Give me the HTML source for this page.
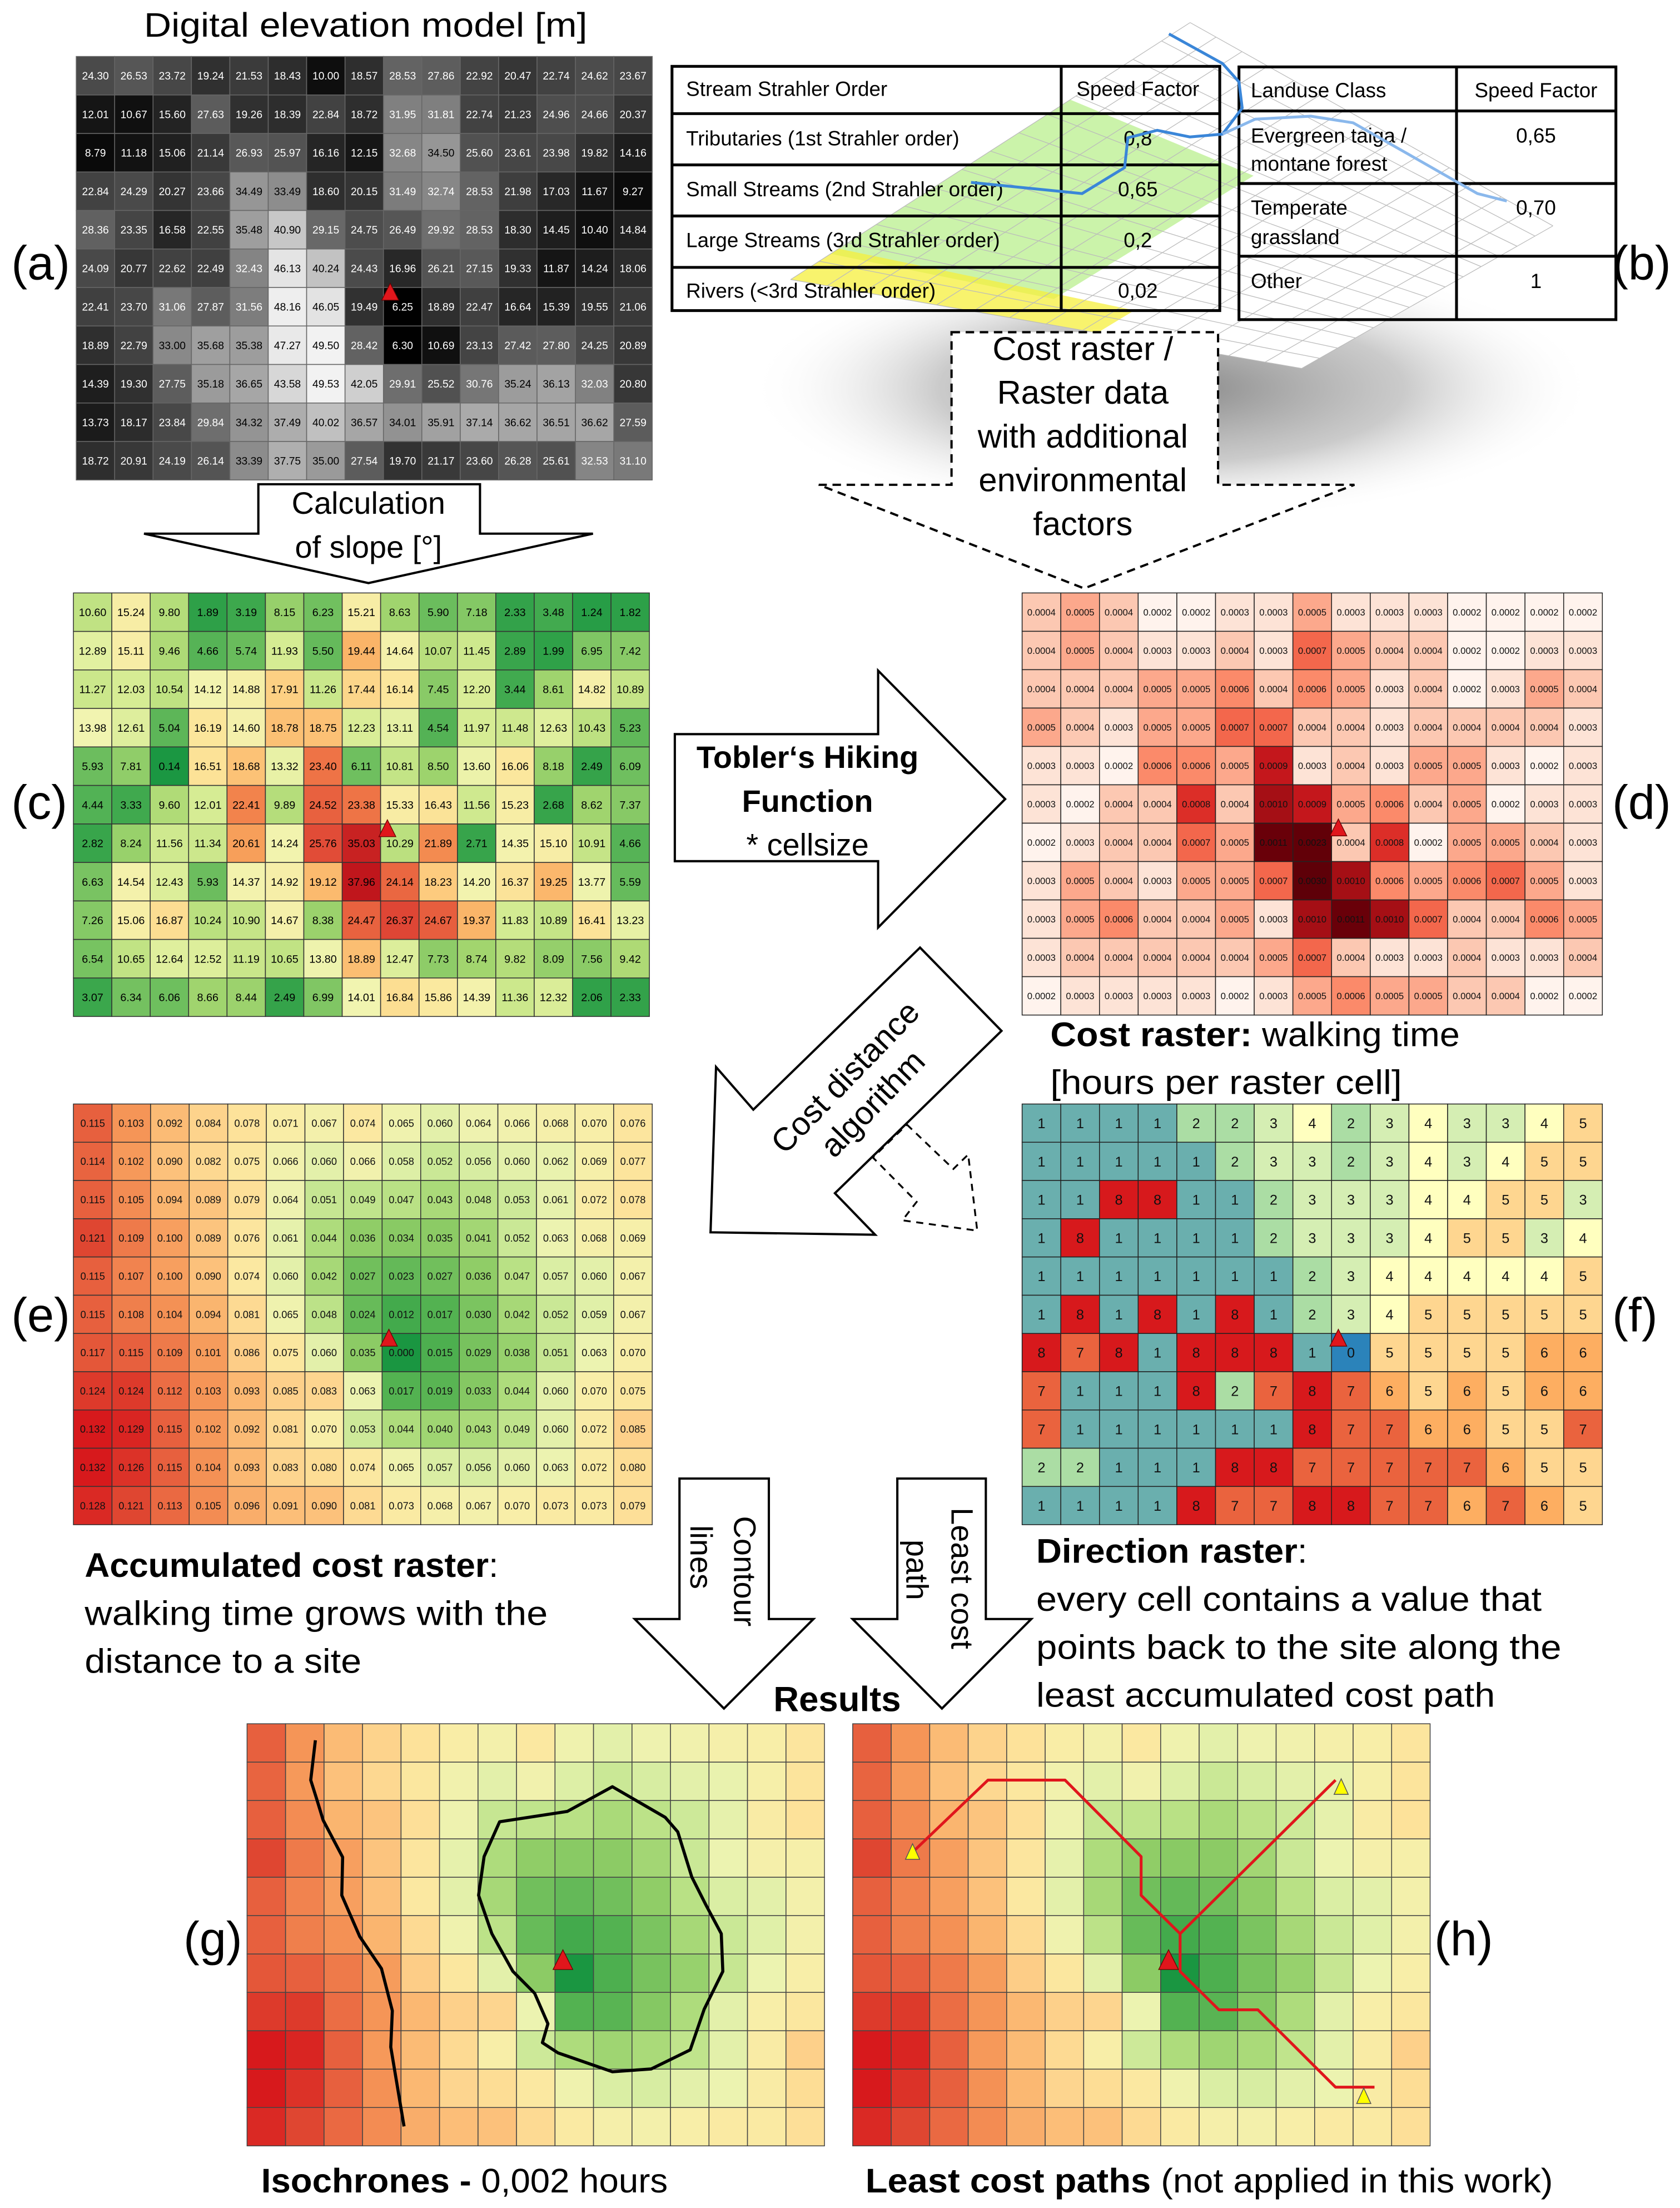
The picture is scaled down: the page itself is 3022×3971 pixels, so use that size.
<!DOCTYPE html>
<html><head><meta charset="utf-8">
<style>
html,body{margin:0;padding:0;background:#fff;}
svg{display:block;}
text{font-family:"Liberation Sans",sans-serif;}
</style></head>
<body>
<svg id="fig" xmlns="http://www.w3.org/2000/svg" width="3022" height="3971" viewBox="0 0 1190 1564" preserveAspectRatio="none">
<defs>
  <radialGradient id="shadowGrad" cx="0.5" cy="0.5" r="0.5">
    <stop offset="0" stop-color="#7a7a7a" stop-opacity="0.9"/>
    <stop offset="0.55" stop-color="#a0a0a0" stop-opacity="0.55"/>
    <stop offset="1" stop-color="#ffffff" stop-opacity="0"/>
  </radialGradient>
</defs>
<rect x="0" y="0" width="1190" height="1564" fill="#fff"/>

<!-- Title -->
<text x="259" y="26" font-size="24" text-anchor="middle" textLength="314" lengthAdjust="spacingAndGlyphs">Digital elevation model [m]</text>

<!-- panel letters -->
<g font-size="34">
  <text x="8" y="198">(a)</text>
  <text x="1142" y="198">(b)</text>
  <text x="8" y="580">(c)</text>
  <text x="1142" y="580">(d)</text>
  <text x="8" y="943">(e)</text>
  <text x="1142" y="943">(f)</text>
  <text x="130" y="1385">(g)</text>
  <text x="1016" y="1385">(h)</text>
</g>

<!-- (b) background plane -->
<g id="plane">
  <ellipse cx="830" cy="275" rx="300" ry="95" fill="url(#shadowGrad)"/>
</g>

<!-- tables -->
<g id="tables" font-size="14.5" fill="#000">
  <g stroke="#000" fill="none">
    <rect x="476" y="47" width="388" height="173" stroke-width="2"/>
    <line x1="476" y1="80.5" x2="864" y2="80.5" stroke-width="2"/>
    <line x1="476" y1="116.8" x2="864" y2="116.8" stroke-width="2"/>
    <line x1="476" y1="153" x2="864" y2="153" stroke-width="2"/>
    <line x1="476" y1="189.4" x2="864" y2="189.4" stroke-width="2"/>
    <line x1="751.7" y1="47" x2="751.7" y2="220" stroke-width="2"/>
  </g>
  <text x="486" y="68">Stream Strahler Order</text>
  <text x="806" y="68" text-anchor="middle">Speed Factor</text>
  <text x="486" y="103">Tributaries (1st Strahler order)</text>
  <text x="486" y="139">Small Streams (2nd Strahler order)</text>
  <text x="486" y="175">Large Streams (3rd Strahler order)</text>
  <text x="486" y="211">Rivers (&lt;3rd Strahler order)</text>
  <text x="806" y="103" text-anchor="middle">0,8</text>
  <text x="806" y="139" text-anchor="middle">0,65</text>
  <text x="806" y="175" text-anchor="middle">0,2</text>
  <text x="806" y="211" text-anchor="middle">0,02</text>

  <g stroke="#000" fill="none">
    <rect x="877.6" y="47.4" width="267" height="179" stroke-width="2"/>
    <line x1="877.6" y1="78.6" x2="1144.6" y2="78.6" stroke-width="2"/>
    <line x1="877.6" y1="130" x2="1144.6" y2="130" stroke-width="2"/>
    <line x1="877.6" y1="181.5" x2="1144.6" y2="181.5" stroke-width="2"/>
    <line x1="1031.7" y1="47.4" x2="1031.7" y2="226.4" stroke-width="2"/>
  </g>
  <text x="886" y="69">Landuse Class</text>
  <text x="1088" y="69" text-anchor="middle">Speed Factor</text>
  <text x="886" y="101">Evergreen taiga /</text>
  <text x="886" y="121">montane forest</text>
  <text x="886" y="152">Temperate</text>
  <text x="886" y="173">grassland</text>
  <text x="886" y="204">Other</text>
  <text x="1088" y="101" text-anchor="middle">0,65</text>
  <text x="1088" y="152" text-anchor="middle">0,70</text>
  <text x="1088" y="204" text-anchor="middle">1</text>
</g>

<!-- streams -->
<polyline points="828,24 866,45 877.6,58 879.9,76.5 866,95 842.8,97 819.7,92.3 798.9,97.6 796.6,118.7 766.5,137.1 687.8,129.2" fill="none" stroke="#3a86d8" stroke-width="2"/>
<polyline points="866,95 889.1,84.4 928.5,82.3 958.5,87 995.6,108.1 1032.6,129.2 1046.5,137.1 1067.3,142.4" fill="none" stroke="#8ab8ec" stroke-width="2"/>

<!-- dashed cost raster arrow -->
<polygon points="674,235.3 862.8,235.3 862.8,343.4 959.4,343.4 767.9,416.8 580,343.4 674,343.4" fill="#fff" stroke="#000" stroke-width="1.6" stroke-dasharray="6,4"/>
<g font-size="23.5" text-anchor="middle">
  <text x="767" y="255">Cost raster /</text>
  <text x="767" y="286">Raster data</text>
  <text x="767" y="317">with additional</text>
  <text x="767" y="348">environmental</text>
  <text x="767" y="379">factors</text>
</g>

<!-- calculation of slope arrow -->
<polygon points="183,343 340,343 340,378 420,378 261,413 102,378 183,378" fill="#fff" stroke="#000" stroke-width="1.6"/>
<g font-size="22" text-anchor="middle">
  <text x="261" y="364">Calculation</text>
  <text x="261" y="395">of slope [°]</text>
</g>

<!-- Tobler arrow -->
<polygon points="478,520 622,520 622,475 712,566 622,657 622,610 478,610" fill="#fff" stroke="#000" stroke-width="1.6"/>
<g font-size="22" text-anchor="middle">
  <text x="572" y="544" font-weight="bold">Tobler‘s Hiking</text>
  <text x="572" y="575" font-weight="bold">Function</text>
  <text x="572" y="606">* cellsize</text>
</g>

<!-- cost distance arrow -->
<polygon points="651.7,671.2 709.4,730.2 591.4,845.2 619.9,874.6 503.3,872.9 507.2,755.8 533.6,786" fill="#fff" stroke="#000" stroke-width="1.6"/>
<polygon points="642.4,796.6 675.3,828 685.8,817.8 692.2,871.7 639.2,864.4 649.3,851.3 618.3,819.9" fill="none" stroke="#000" stroke-width="1.3" stroke-dasharray="5,4"/>
<g transform="translate(608.6,772.5) rotate(-46)" font-size="23" text-anchor="middle">
  <text x="0" y="-6">Cost distance</text>
  <text x="0" y="21">algorithm</text>
</g>

<!-- contour / least cost arrows -->
<polygon points="481.3,1047.3 544.6,1047.3 544.6,1146.8 576.2,1146.8 512.8,1210.2 449.6,1146.8 481.3,1146.8" fill="#fff" stroke="#000" stroke-width="1.6"/>
<polygon points="635.6,1047.3 698.3,1047.3 698.3,1146.8 730.5,1146.8 667.2,1210.2 603.9,1146.8 635.6,1146.8" fill="#fff" stroke="#000" stroke-width="1.6"/>
<g font-size="22" text-anchor="middle">
  <text transform="translate(520,1113) rotate(90)" x="0" y="0">Contour</text>
  <text transform="translate(489,1103) rotate(90)" x="0" y="0">lines</text>
  <text transform="translate(674,1118) rotate(90)" x="0" y="0">Least cost</text>
  <text transform="translate(642,1112) rotate(90)" x="0" y="0">path</text>
</g>
<text x="593" y="1212" font-size="25" font-weight="bold" text-anchor="middle">Results</text>

<!-- captions -->
<g font-size="24">
  <text x="744" y="741" textLength="290" lengthAdjust="spacingAndGlyphs"><tspan font-weight="bold">Cost raster:</tspan> walking time</text>
  <text x="744" y="775" textLength="249" lengthAdjust="spacingAndGlyphs">[hours per raster cell]</text>
  <text x="60" y="1117" textLength="293" lengthAdjust="spacingAndGlyphs"><tspan font-weight="bold">Accumulated cost raster</tspan>:</text>
  <text x="60" y="1151" textLength="328" lengthAdjust="spacingAndGlyphs">walking time grows with the</text>
  <text x="60" y="1185" textLength="196" lengthAdjust="spacingAndGlyphs">distance to a site</text>
  <text x="734" y="1107" textLength="192" lengthAdjust="spacingAndGlyphs"><tspan font-weight="bold">Direction raster</tspan>:</text>
  <text x="734" y="1141" textLength="358" lengthAdjust="spacingAndGlyphs">every cell contains a value that</text>
  <text x="734" y="1175" textLength="372" lengthAdjust="spacingAndGlyphs">points back to the site along the</text>
  <text x="734" y="1209" textLength="325" lengthAdjust="spacingAndGlyphs">least accumulated cost path</text>
  <text x="185" y="1553" textLength="288" lengthAdjust="spacingAndGlyphs"><tspan font-weight="bold">Isochrones - </tspan>0,002 hours</text>
  <text x="613" y="1553" textLength="487" lengthAdjust="spacingAndGlyphs"><tspan font-weight="bold">Least cost paths</tspan> (not applied in this work)</text>
</g>

<g id="grids"></g>
<g id="overlays"></g>
</svg>

<script>
const demValues = [
[24.30,26.53,23.72,19.24,21.53,18.43,10.00,18.57,28.53,27.86,22.92,20.47,22.74,24.62,23.67],
[12.01,10.67,15.60,27.63,19.26,18.39,22.84,18.72,31.95,31.81,22.74,21.23,24.96,24.66,20.37],
[8.79,11.18,15.06,21.14,26.93,25.97,16.16,12.15,32.68,34.50,25.60,23.61,23.98,19.82,14.16],
[22.84,24.29,20.27,23.66,34.49,33.49,18.60,20.15,31.49,32.74,28.53,21.98,17.03,11.67,9.27],
[28.36,23.35,16.58,22.55,35.48,40.90,29.15,24.75,26.49,29.92,28.53,18.30,14.45,10.40,14.84],
[24.09,20.77,22.62,22.49,32.43,46.13,40.24,24.43,16.96,26.21,27.15,19.33,11.87,14.24,18.06],
[22.41,23.70,31.06,27.87,31.56,48.16,46.05,19.49,6.25,18.89,22.47,16.64,15.39,19.55,21.06],
[18.89,22.79,33.00,35.68,35.38,47.27,49.50,28.42,6.30,10.69,23.13,27.42,27.80,24.25,20.89],
[14.39,19.30,27.75,35.18,36.65,43.58,49.53,42.05,29.91,25.52,30.76,35.24,36.13,32.03,20.80],
[13.73,18.17,23.84,29.84,34.32,37.49,40.02,36.57,34.01,35.91,37.14,36.62,36.51,36.62,27.59],
[18.72,20.91,24.19,26.14,33.39,37.75,35.00,27.54,19.70,21.17,23.60,26.28,25.61,32.53,31.10]
];
const slopeValues = [
[10.60,15.24,9.80,1.89,3.19,8.15,6.23,15.21,8.63,5.90,7.18,2.33,3.48,1.24,1.82],
[12.89,15.11,9.46,4.66,5.74,11.93,5.50,19.44,14.64,10.07,11.45,2.89,1.99,6.95,7.42],
[11.27,12.03,10.54,14.12,14.88,17.91,11.26,17.44,16.14,7.45,12.20,3.44,8.61,14.82,10.89],
[13.98,12.61,5.04,16.19,14.60,18.78,18.75,12.23,13.11,4.54,11.97,11.48,12.63,10.43,5.23],
[5.93,7.81,0.14,16.51,18.68,13.32,23.40,6.11,10.81,8.50,13.60,16.06,8.18,2.49,6.09],
[4.44,3.33,9.60,12.01,22.41,9.89,24.52,23.38,15.33,16.43,11.56,15.23,2.68,8.62,7.37],
[2.82,8.24,11.56,11.34,20.61,14.24,25.76,35.03,10.29,21.89,2.71,14.35,15.10,10.91,4.66],
[6.63,14.54,12.43,5.93,14.37,14.92,19.12,37.96,24.14,18.23,14.20,16.37,19.25,13.77,5.59],
[7.26,15.06,16.87,10.24,10.90,14.67,8.38,24.47,26.37,24.67,19.37,11.83,10.89,16.41,13.23],
[6.54,10.65,12.64,12.52,11.19,10.65,13.80,18.89,12.47,7.73,8.74,9.82,8.09,7.56,9.42],
[3.07,6.34,6.06,8.66,8.44,2.49,6.99,14.01,16.84,15.86,14.39,11.36,12.32,2.06,2.33]
];
const costValues = [
[0.0004,0.0005,0.0004,0.0002,0.0002,0.0003,0.0003,0.0005,0.0003,0.0003,0.0003,0.0002,0.0002,0.0002,0.0002],
[0.0004,0.0005,0.0004,0.0003,0.0003,0.0004,0.0003,0.0007,0.0005,0.0004,0.0004,0.0002,0.0002,0.0003,0.0003],
[0.0004,0.0004,0.0004,0.0005,0.0005,0.0006,0.0004,0.0006,0.0005,0.0003,0.0004,0.0002,0.0003,0.0005,0.0004],
[0.0005,0.0004,0.0003,0.0005,0.0005,0.0007,0.0007,0.0004,0.0004,0.0003,0.0004,0.0004,0.0004,0.0004,0.0003],
[0.0003,0.0003,0.0002,0.0006,0.0006,0.0005,0.0009,0.0003,0.0004,0.0003,0.0005,0.0005,0.0003,0.0002,0.0003],
[0.0003,0.0002,0.0004,0.0004,0.0008,0.0004,0.0010,0.0009,0.0005,0.0006,0.0004,0.0005,0.0002,0.0003,0.0003],
[0.0002,0.0003,0.0004,0.0004,0.0007,0.0005,0.0011,0.0023,0.0004,0.0008,0.0002,0.0005,0.0005,0.0004,0.0003],
[0.0003,0.0005,0.0004,0.0003,0.0005,0.0005,0.0007,0.0030,0.0010,0.0006,0.0005,0.0006,0.0007,0.0005,0.0003],
[0.0003,0.0005,0.0006,0.0004,0.0004,0.0005,0.0003,0.0010,0.0011,0.0010,0.0007,0.0004,0.0004,0.0006,0.0005],
[0.0003,0.0004,0.0004,0.0004,0.0004,0.0004,0.0005,0.0007,0.0004,0.0003,0.0003,0.0004,0.0003,0.0003,0.0004],
[0.0002,0.0003,0.0003,0.0003,0.0003,0.0002,0.0003,0.0005,0.0006,0.0005,0.0005,0.0004,0.0004,0.0002,0.0002]
];
const accumValues = [
[0.115,0.103,0.092,0.084,0.078,0.071,0.067,0.074,0.065,0.060,0.064,0.066,0.068,0.070,0.076],
[0.114,0.102,0.090,0.082,0.075,0.066,0.060,0.066,0.058,0.052,0.056,0.060,0.062,0.069,0.077],
[0.115,0.105,0.094,0.089,0.079,0.064,0.051,0.049,0.047,0.043,0.048,0.053,0.061,0.072,0.078],
[0.121,0.109,0.100,0.089,0.076,0.061,0.044,0.036,0.034,0.035,0.041,0.052,0.063,0.068,0.069],
[0.115,0.107,0.100,0.090,0.074,0.060,0.042,0.027,0.023,0.027,0.036,0.047,0.057,0.060,0.067],
[0.115,0.108,0.104,0.094,0.081,0.065,0.048,0.024,0.012,0.017,0.030,0.042,0.052,0.059,0.067],
[0.117,0.115,0.109,0.101,0.086,0.075,0.060,0.035,0.000,0.015,0.029,0.038,0.051,0.063,0.070],
[0.124,0.124,0.112,0.103,0.093,0.085,0.083,0.063,0.017,0.019,0.033,0.044,0.060,0.070,0.075],
[0.132,0.129,0.115,0.102,0.092,0.081,0.070,0.053,0.044,0.040,0.043,0.049,0.060,0.072,0.085],
[0.132,0.126,0.115,0.104,0.093,0.083,0.080,0.074,0.065,0.057,0.056,0.060,0.063,0.072,0.080],
[0.128,0.121,0.113,0.105,0.096,0.091,0.090,0.081,0.073,0.068,0.067,0.070,0.073,0.073,0.079]
];
const directionValues = [
[1,1,1,1,2,2,3,4,2,3,4,3,3,4,5],
[1,1,1,1,1,2,3,3,2,3,4,3,4,5,5],
[1,1,8,8,1,1,2,3,3,3,4,4,5,5,3],
[1,8,1,1,1,1,2,3,3,3,4,5,5,3,4],
[1,1,1,1,1,1,1,2,3,4,4,4,4,4,5],
[1,8,1,8,1,8,1,2,3,4,5,5,5,5,5],
[8,7,8,1,8,8,8,1,0,5,5,5,5,6,6],
[7,1,1,1,8,2,7,8,7,6,5,6,5,6,6],
[7,1,1,1,1,1,1,8,7,7,6,6,5,5,7],
[2,2,1,1,1,8,8,7,7,7,7,7,6,5,5],
[1,1,1,1,8,7,7,8,8,7,7,6,7,6,5]
];
const siteCell = [6, 8];
const isochroneOuter = [[223.4,1232.7],[220.1,1260.9],[224.5,1274.9],[228.9,1289.3],[242.7,1315.5],[242.1,1342.5],[254.8,1371.7],[270.2,1394.4],[277.9,1424.3],[276.8,1450],[286.2,1506.2]];
const isochroneInner = [[433.8,1265.6],[401.8,1283.1],[353.9,1290.4],[342.9,1315.1],[339.0,1342.5],[348.4,1369.7],[363.3,1396.4],[378.7,1411.9],[388.1,1433.5],[384.2,1446.9],[395.2,1454.1],[433.8,1467.5],[461.3,1465.5],[488.9,1452],[498.8,1423.2],[512.0,1396.4],[510.9,1369.7],[499.9,1349.1],[490.0,1329.5],[480.1,1297.6],[471.2,1287.3]];
const pathA = [[646.4,1312],[699.8,1260.9],[754.4,1260.9],[808.3,1315.1],[808.3,1342.5],[835.9,1369.7],[835.9,1396.4],[863.4,1423.6],[891,1423.6],[946,1478.4],[973.6,1478.4]];
const pathB = [[835.9,1369.7],[946,1260.9]];
const startPoints = [[646.4,1307],[950,1261],[966,1480]];

const NS = "http://www.w3.org/2000/svg";
function hex2rgb(h){return [parseInt(h.substr(1,2),16),parseInt(h.substr(3,2),16),parseInt(h.substr(5,2),16)];}
function ramp(stops, v){
  if(v<=stops[0][0]) return stops[0][1];
  for(let i=1;i<stops.length;i++){
    if(v<=stops[i][0]){
      const t=(v-stops[i-1][0])/(stops[i][0]-stops[i-1][0]);
      const a=hex2rgb(stops[i-1][1]), b=hex2rgb(stops[i][1]);
      return "rgb("+a.map((c,k)=>Math.round(c+(b[k]-c)*t)).join(",")+")";
    }
  }
  return stops[stops.length-1][1];
}
const demStops=[[6,'#000000'],[12,'#151515'],[20,'#333333'],[28,'#5e5e5e'],[35,'#9a9a9a'],[42,'#cfcfcf'],[49,'#f2f2f2']];
const slopeStops=[[0,'#1a9641'],[3,'#3aa64c'],[6,'#6dbe5e'],[9,'#a7d770'],[12,'#d6ec94'],[14,'#f1f4b0'],[16,'#fbe89e'],[18,'#fdcf82'],[20,'#f9a95e'],[23,'#f07a48'],[26,'#e04836'],[38,'#c0161c']];
const costStops=[[0.0002,'#fff3ed'],[0.0003,'#fde3d6'],[0.0004,'#fcc8b2'],[0.0005,'#fca88c'],[0.0006,'#fb8a6a'],[0.0007,'#f3674c'],[0.0008,'#dc2e28'],[0.0009,'#c4171c'],[0.0010,'#a50f15'],[0.0011,'#690009'],[0.0030,'#5e0008']];
const accumStops=[[0,'#1a9641'],[0.015,'#4daf4f'],[0.025,'#6abc5a'],[0.035,'#8ccb65'],[0.045,'#b2de7e'],[0.055,'#d4eca0'],[0.063,'#ecf3b0'],[0.07,'#f8eea8'],[0.078,'#fde29a'],[0.085,'#fdd08a'],[0.093,'#fbb872'],[0.103,'#f59557'],[0.112,'#eb6d44'],[0.12,'#e04a33'],[0.132,'#d7191c']];
const dirColors=['#2b83ba','#6aafae','#abdda4','#d5eeb3','#ffffbf','#fed690','#fdae61','#ea633e','#d7191c'];

const gridsG=document.getElementById('grids');
const overG=document.getElementById('overlays');

function drawGrid(name, values, x0, y0, w, h, colorFn, fmt, fontSize, textColorFn, stroke){
  const g=document.createElementNS(NS,'g');
  
  
  const rows=values.length, cols=values[0].length;
  const cw=w/cols, ch=h/rows;
  for(let r=0;r<rows;r++){
    for(let c=0;c<cols;c++){
      const v=values[r][c];
      const rect=document.createElementNS(NS,'rect');
      rect.setAttribute('x', x0+c*cw);
      rect.setAttribute('y', y0+r*ch);
      rect.setAttribute('width', cw);
      rect.setAttribute('height', ch);
      rect.setAttribute('fill', colorFn(v));
      rect.setAttribute('stroke', stroke);
      rect.setAttribute('stroke-width', '0.6');
      
      
      g.appendChild(rect);
      if(fmt){
        const t=document.createElementNS(NS,'text');
        t.setAttribute('x', x0+c*cw+cw/2);
        t.setAttribute('y', y0+r*ch+ch/2+fontSize*0.36);
        t.setAttribute('text-anchor','middle');
        t.setAttribute('font-size', fontSize);
        t.setAttribute('fill', textColorFn(v));
        
        
        t.textContent=fmt(v);
        g.appendChild(t);
      }
    }
  }
  gridsG.appendChild(g);
  return {cw:cw, ch:ch};
}
function site(x0,y0,cw,ch,size,name){
  const cx=x0+siteCell[1]*cw, cy=y0+siteCell[0]*ch;
  const p=document.createElementNS(NS,'polygon');
  p.setAttribute('points', (cx+size*0.4)+','+(cy-3)+' '+(cx-size*0.1)+','+(cy-3+size)+' '+(cx+size*0.9)+','+(cy-3+size));
  p.setAttribute('fill','#e0161c');
  p.setAttribute('stroke','#600');
  p.setAttribute('stroke-width','0.5');
  
  
  overG.appendChild(p);
}
const fmtStrip=v=>v.toFixed(3).replace(/^0/,'');
// (a)
let s=drawGrid('dem-grid', demValues, 54, 40, 408, 300, v=>ramp(demStops,v), v=>v.toFixed(2), 7.6, v=>v<33?'#fff':'#000', '#666');
site(54,40,s.cw,s.ch,12,'dem-site-marker');
// (c)
s=drawGrid('slope-grid', slopeValues, 52, 420, 408, 300, v=>ramp(slopeStops,v), v=>v.toFixed(2), 7.8, v=>'#000', '#333');
site(52,420,s.cw,s.ch,12,'slope-site-marker');
// (d)
s=drawGrid('cost-grid', costValues, 724, 420, 411, 299, v=>ramp(costStops,v), v=>v.toFixed(4), 6.6, v=>'#111', '#222');
site(724,420,s.cw,s.ch,12,'cost-site-marker');
// (e)
s=drawGrid('accum-grid', accumValues, 52, 782, 410, 298, v=>ramp(accumStops,v), v=>v.toFixed(3), 7.2, v=>'#111', '#333');
site(52,782,s.cw,s.ch,12,'accum-site-marker');
// (f)
s=drawGrid('direction-grid', directionValues, 724, 782, 411, 298, v=>dirColors[v], v=>String(v), 10, v=>'#111', '#222');
site(724,782,s.cw,s.ch,12,'direction-site-marker');
// (g) and (h)
s=drawGrid('isochrone-grid', accumValues, 175, 1221, 409, 299, v=>ramp(accumStops,v), null, 0, null, '#444');
site(175,1221,s.cw,s.ch,14,'isochrone-site-marker');
s=drawGrid('least-cost-grid', accumValues, 604, 1221, 409, 299, v=>ramp(accumStops,v), null, 0, null, '#444');

function poly(pts, closed, stroke, width, name){
  const el=document.createElementNS(NS, closed?'polygon':'polyline');
  el.setAttribute('points', pts.map(p=>p[0]+','+p[1]).join(' '));
  el.setAttribute('fill','none');
  el.setAttribute('stroke',stroke);
  el.setAttribute('stroke-width',width);
  el.setAttribute('stroke-linejoin','round');
  
  
  overG.appendChild(el);
}
poly(isochroneOuter,false,'#000',2.2,'isochrone-line-outer');
poly(isochroneInner,true,'#000',2.2,'isochrone-line-inner');
poly(pathA,false,'#e0161c',2,'least-cost-path-a');
poly(pathB,false,'#e0161c',2,'least-cost-path-b');
site(604,1221,s.cw,s.ch,14,'least-cost-site-marker');
startPoints.forEach(function(p){
  const t=document.createElementNS(NS,'polygon');
  t.setAttribute('points', p[0]+','+(p[1]-1)+' '+(p[0]-5)+','+(p[1]+10)+' '+(p[0]+5)+','+(p[1]+10));
  t.setAttribute('fill','#ffff00');
  t.setAttribute('stroke','#555');
  t.setAttribute('stroke-width','0.6');
  
  
  overG.appendChild(t);
});

// (b) background plane grid
(function(){
  const plane=document.getElementById('plane');
  const T=[843,16],R=[1100,160],B=[922,261],L=[560,198];
  function pt(u,v){
    const a=[T[0]+(R[0]-T[0])*u, T[1]+(R[1]-T[1])*u];
    const b=[L[0]+(B[0]-L[0])*u, L[1]+(B[1]-L[1])*u];
    return [a[0]+(b[0]-a[0])*v, a[1]+(b[1]-a[1])*v];
  }
  function quad(u0,u1,v0,v1,fill,op,name){
    const q=document.createElementNS(NS,'polygon');
    q.setAttribute('points',[pt(u0,v0),pt(u1,v0),pt(u1,v1),pt(u0,v1)].map(p=>p.join(',')).join(' '));
    q.setAttribute('fill',fill);
    q.setAttribute('fill-opacity',op);
    
    
    plane.appendChild(q);
  }
  quad(0,1,0,1,'#ffffff',1,'plane-surface');
  quad(0,0.45,0.3,0.9,'#b9ef8e',0.75,'grassland-zone');
  quad(0,0.6,0.88,1,'#f5ef3c',0.75,'barren-land-zone');
  for(let i=0;i<=14;i++){
    const f=i/14;
    const l1=document.createElementNS(NS,'line');
    const a=pt(f,0), b=pt(f,1);
    l1.setAttribute('x1',a[0]);l1.setAttribute('y1',a[1]);l1.setAttribute('x2',b[0]);l1.setAttribute('y2',b[1]);
    l1.setAttribute('stroke','#bbb');l1.setAttribute('stroke-width','0.5');
    
    
    plane.appendChild(l1);
    const l2=document.createElementNS(NS,'line');
    const c=pt(0,f), d=pt(1,f);
    l2.setAttribute('x1',c[0]);l2.setAttribute('y1',c[1]);l2.setAttribute('x2',d[0]);l2.setAttribute('y2',d[1]);
    l2.setAttribute('stroke','#bbb');l2.setAttribute('stroke-width','0.5');
    
    
    plane.appendChild(l2);
  }
})();
</script>
</body></html>
